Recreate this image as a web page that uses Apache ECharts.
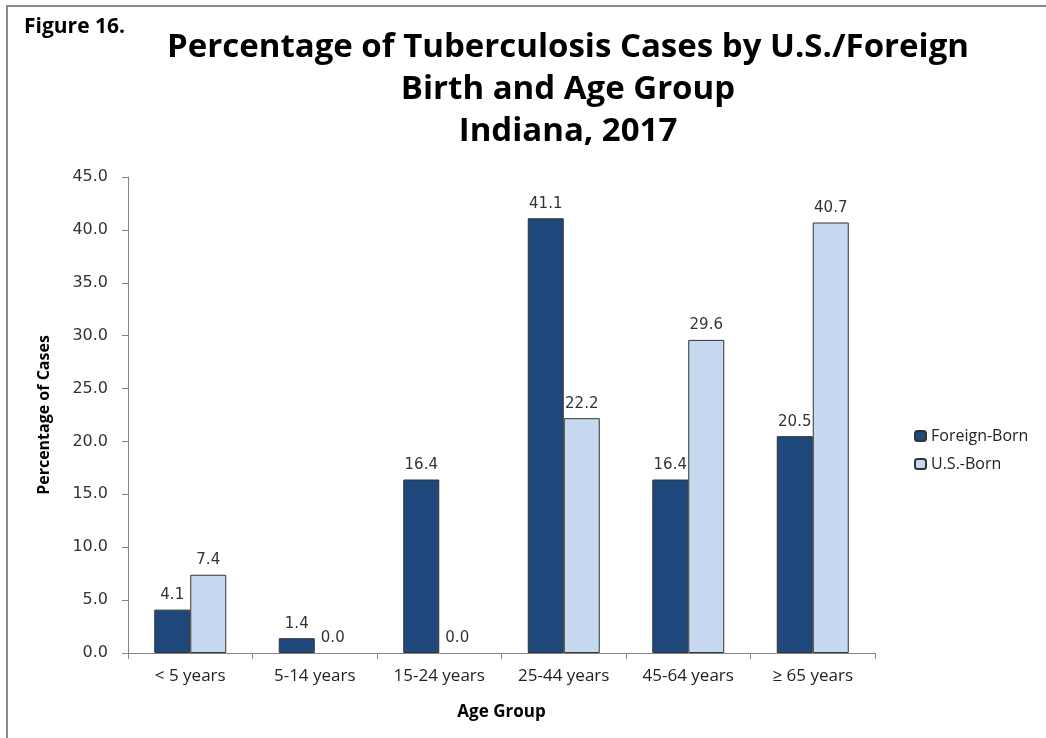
<!DOCTYPE html>
<html>
<head>
<meta charset="utf-8">
<script src="https://cdn.jsdelivr.net/npm/echarts@6/dist/echarts.min.js"></script>
<style>
html,body{margin:0;padding:0;background:#fff;}
#chart{width:1046px;height:738px;}
</style>
</head>
<body>
<div id="chart"></div>
<script>
const categories = ['< 5 years', '5-14 years', '15-24 years', '25-44 years', '45-64 years', '≥ 65 years'];
const foreignBorn = [4.1, 1.4, 16.4, 41.1, 16.4, 20.5];
const usBorn = [7.4, 0.0, 0.0, 22.2, 29.6, 40.7];
const seriesNames = ['Foreign-Born', 'U.S.-Born'];
const titleLines = ['Percentage of Tuberculosis Cases by U.S./Foreign', 'Birth and Age Group', 'Indiana, 2017'];

const chart = echarts.init(document.getElementById('chart'));
const labelStyle = {
  show: true, position: 'top', distance: 7,
  fontFamily: 'DejaVu Sans', fontSize: 15, color: '#333',
  formatter: p => p.value.toFixed(1)
};
// zero-height bars show no outline
const withBorder = arr => arr.map(v => v === 0 ? { value: v, itemStyle: { borderWidth: 0 } } : v);

chart.setOption({
  animation: false,
  backgroundColor: '#fff',
  graphic: [
    { type: 'rect', shape: { x: 7, y: 6, width: 1200, height: 900 }, style: { fill: 'none', stroke: '#8a8a8a', lineWidth: 2 } },
    { type: 'text', left: 24, top: 17, style: { text: 'Figure 16.', font: 'bold 21px "Open Sans"', fill: '#000' } }
  ],
  title: {
    text: titleLines.join('\n'),
    left: 563, top: 22, textAlign: 'center',
    textStyle: { fontFamily: 'Open Sans', fontWeight: 'bold', fontSize: 33, lineHeight: 42, color: '#000' }
  },
  legend: {
    orient: 'vertical', left: 909, top: 423,
    itemWidth: 11, itemHeight: 10, itemGap: 12,
    textStyle: { fontFamily: 'Open Sans', fontSize: 16, color: '#222' },
    data: seriesNames
  },
  grid: { left: 128, right: 171, top: 177, bottom: 85, containLabel: false },
  xAxis: {
    type: 'category', data: categories,
    name: 'Age Group', nameLocation: 'middle', nameGap: 51,
    nameTextStyle: { fontFamily: 'Open Sans', fontWeight: 'bold', fontSize: 17, color: '#000' },
    axisLine: { lineStyle: { color: '#868686', width: 1 } },
    axisTick: { show: true, alignWithLabel: false, length: 6, lineStyle: { color: '#868686' } },
    axisLabel: { fontFamily: 'Open Sans', fontSize: 17, color: '#222', margin: 15 }
  },
  yAxis: {
    type: 'value', min: 0, max: 45, interval: 5,
    name: 'Percentage of Cases', nameLocation: 'middle', nameGap: 76,
    nameTextStyle: { fontFamily: 'Open Sans', fontWeight: 'bold', fontSize: 16, color: '#000' },
    axisLine: { show: true, lineStyle: { color: '#868686', width: 1 } },
    axisTick: { show: true, length: 6, lineStyle: { color: '#868686' } },
    splitLine: { show: false },
    axisLabel: { fontFamily: 'DejaVu Sans', fontSize: 16, color: '#333', margin: 20, formatter: v => v.toFixed(1) }
  },
  series: [
    { name: seriesNames[0], type: 'bar', data: withBorder(foreignBorn), barWidth: 36, barGap: '0%',
      itemStyle: { color: '#1F497D', borderColor: '#333', borderWidth: 1 }, label: labelStyle },
    { name: seriesNames[1], type: 'bar', data: withBorder(usBorn), barWidth: 36,
      itemStyle: { color: '#C6D9F1', borderColor: '#333', borderWidth: 1 }, label: labelStyle }
  ]
});
</script>
</body>
</html>
